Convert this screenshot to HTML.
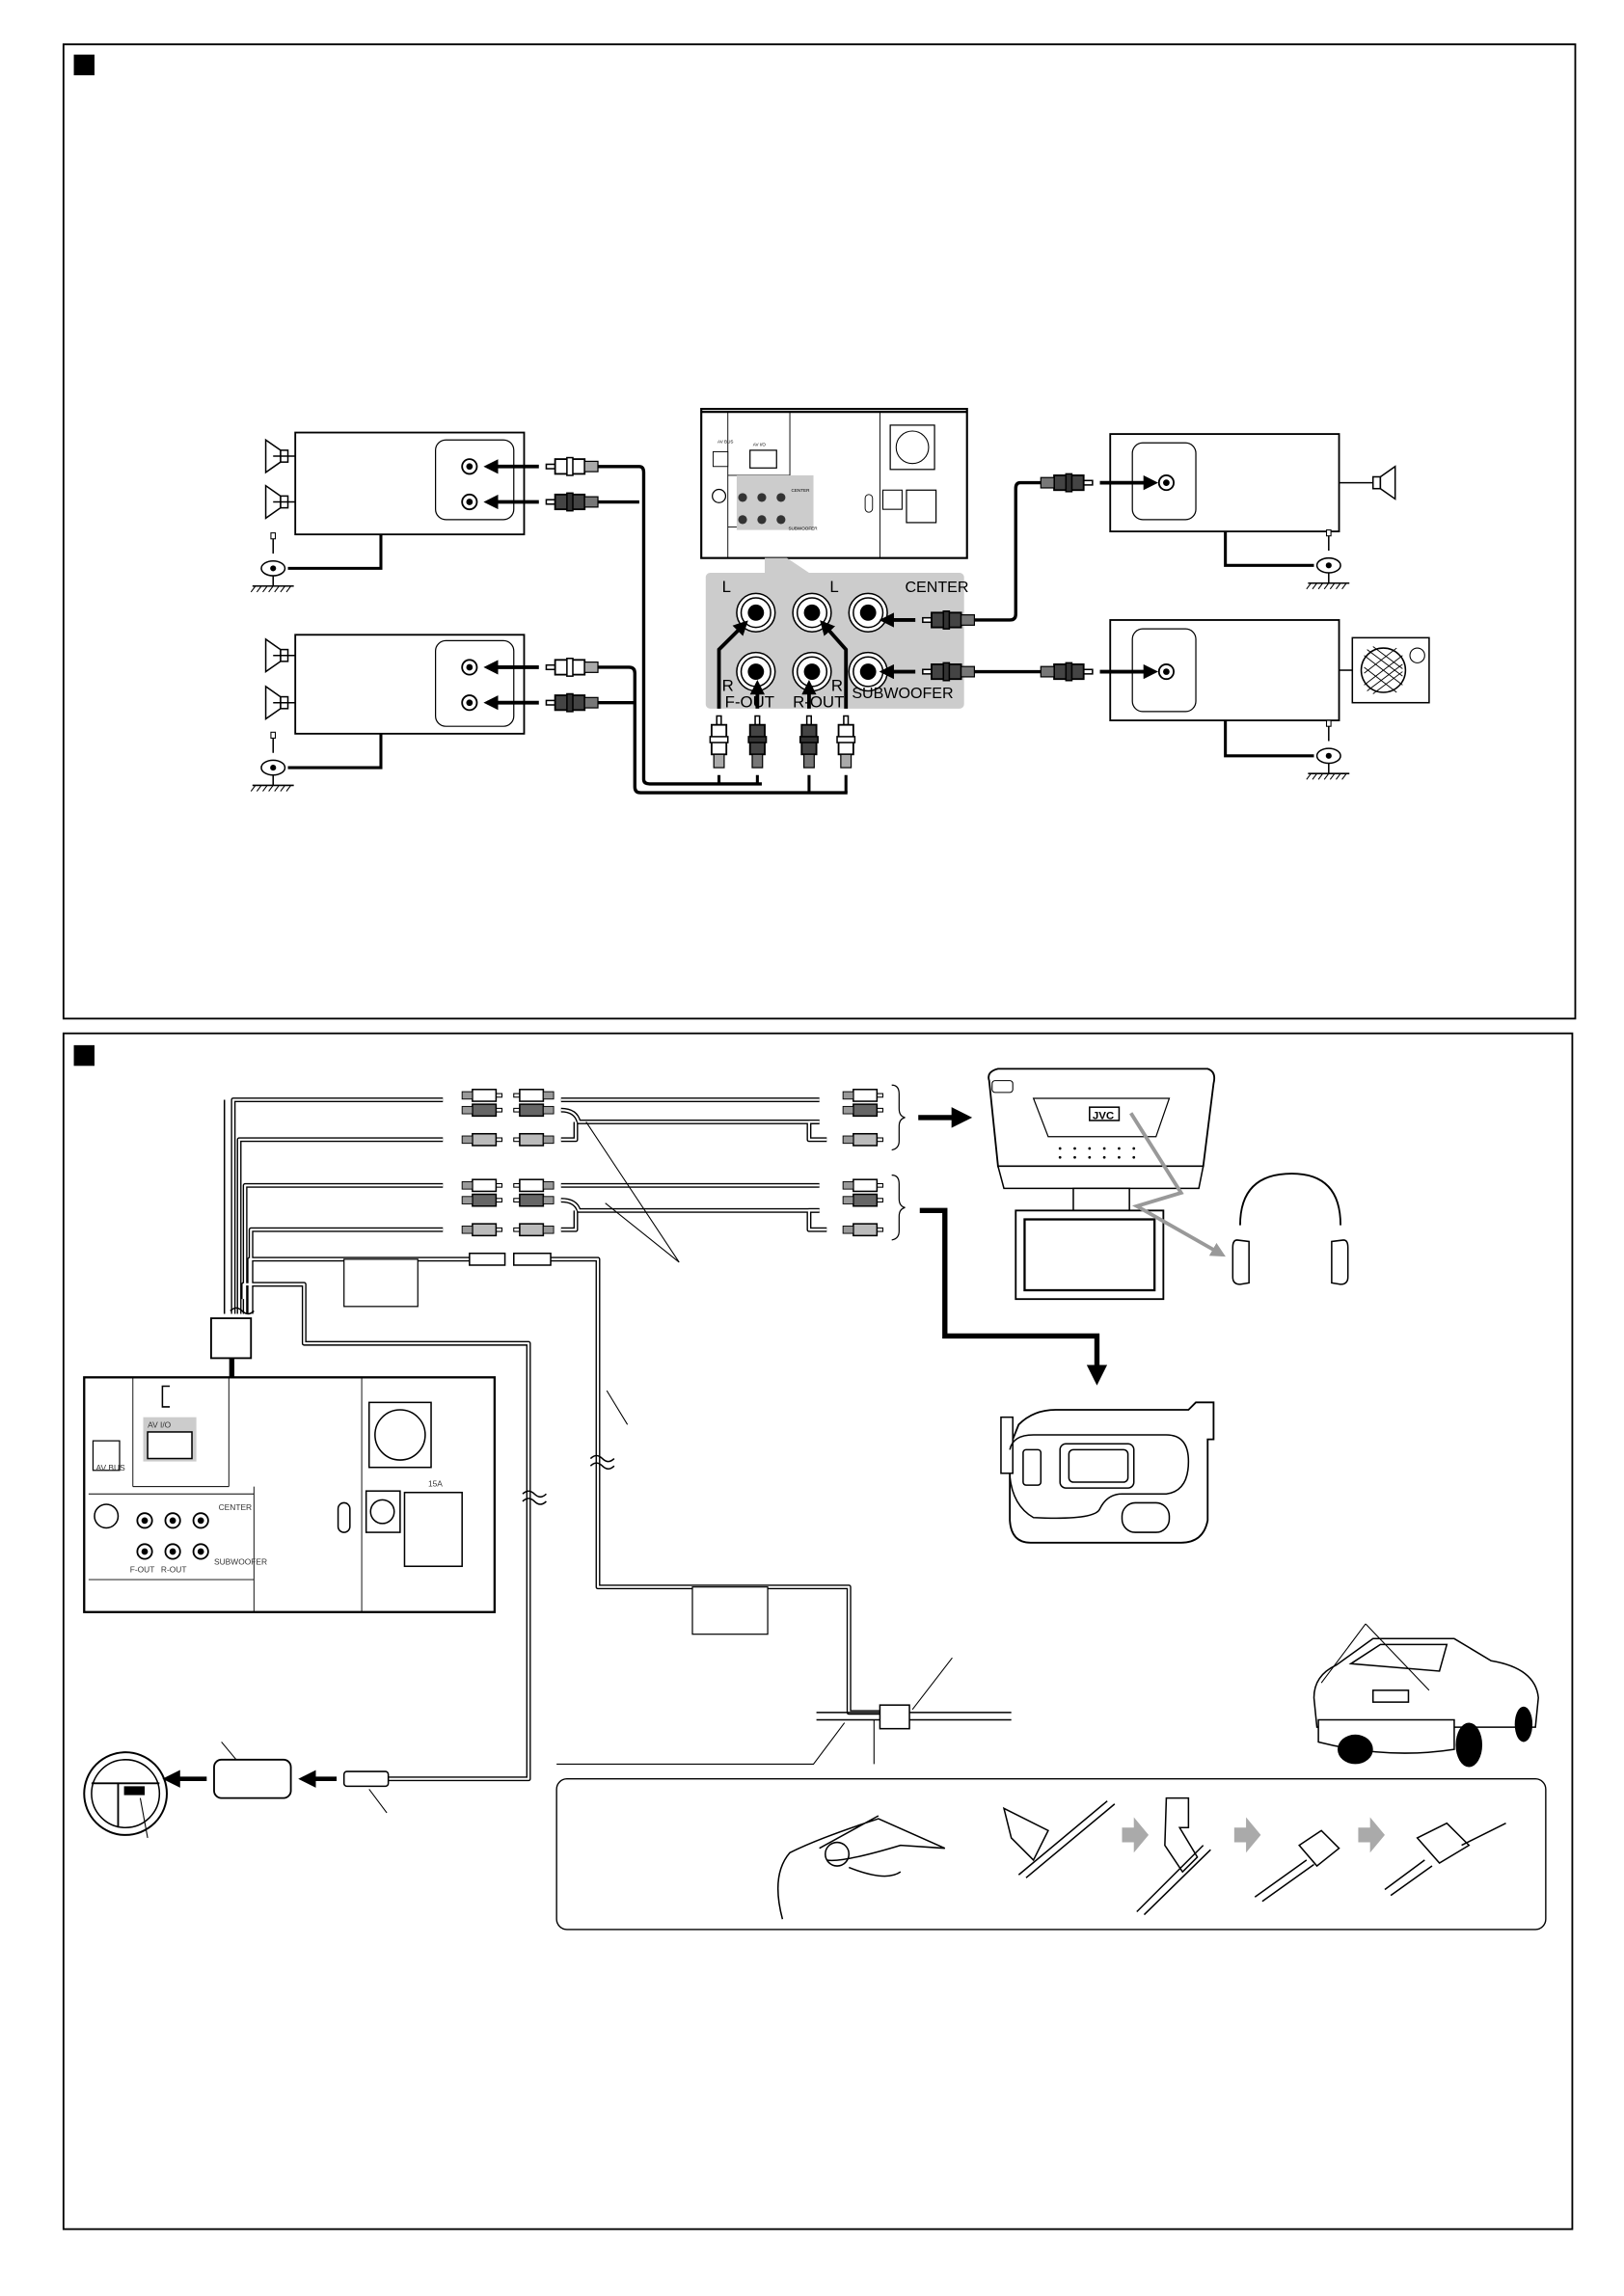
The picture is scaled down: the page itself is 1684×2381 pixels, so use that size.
<!DOCTYPE html>
<html><head><meta charset="utf-8"><style>html,body{margin:0;padding:0;background:#fff}svg{display:block}</style></head>
<body>
<svg width="1684" height="2381" viewBox="0 0 1100 1555.3" xmlns="http://www.w3.org/2000/svg" font-family="Liberation Sans, sans-serif">
<defs>
<g id="pW"><rect x="0" y="-1.5" width="6" height="3" fill="#fff" stroke="#000" stroke-width="1"/><rect x="6" y="-5" width="20" height="10" fill="#fff" stroke="#000" stroke-width="1.2"/><rect x="14" y="-6" width="4" height="12" fill="#fff" stroke="#000"/><rect x="26" y="-3.5" width="9" height="7" fill="#aaa" stroke="#000" stroke-width=".8"/></g>
<g id="pB"><rect x="0" y="-1.5" width="6" height="3" fill="#fff" stroke="#000" stroke-width="1"/><rect x="6" y="-5" width="20" height="10" fill="#444" stroke="#000" stroke-width="1.2"/><rect x="14" y="-6" width="4" height="12" fill="#333" stroke="#000"/><rect x="26" y="-3.5" width="9" height="7" fill="#777" stroke="#000" stroke-width=".8"/></g>
<g id="sW"><rect x="0" y="-1.2" width="4" height="2.4" fill="#fff" stroke="#000" stroke-width=".7"/><rect x="4" y="-4" width="16" height="8" fill="#fff" stroke="#000"/><rect x="20" y="-2.5" width="7" height="5" fill="#999" stroke="#000" stroke-width=".6"/></g>
<g id="sD"><rect x="0" y="-1.2" width="4" height="2.4" fill="#fff" stroke="#000" stroke-width=".7"/><rect x="4" y="-4" width="16" height="8" fill="#666" stroke="#000"/><rect x="20" y="-2.5" width="7" height="5" fill="#999" stroke="#000" stroke-width=".6"/></g>
<g id="sG"><rect x="0" y="-1.2" width="4" height="2.4" fill="#fff" stroke="#000" stroke-width=".7"/><rect x="4" y="-4" width="16" height="8" fill="#bbb" stroke="#000"/><rect x="20" y="-2.5" width="7" height="5" fill="#999" stroke="#000" stroke-width=".6"/></g>
<g id="jack"><circle r="13" fill="#fff" stroke="#000" stroke-width="1"/><circle r="10" fill="#fff" stroke="#000" stroke-width="1"/><circle r="5.5" fill="#000"/></g>
<g id="sj"><circle r="5" fill="#fff" stroke="#000" stroke-width="1.2"/><circle r="2.2" fill="#000"/></g>
<g id="spk"><rect x="0" y="-4" width="5" height="8" fill="#fff" stroke="#000"/><path d="M5,-4 L15,-11 L15,11 L5,4 Z" fill="#fff" stroke="#000"/></g>
<g id="gnd"><line x1="0" y1="-22" x2="0" y2="-10" stroke="#000"/><rect x="-1.5" y="-24" width="3" height="4" fill="#fff" stroke="#000" stroke-width=".7"/><ellipse cx="0" cy="0" rx="8" ry="5" fill="#fff" stroke="#000"/><circle r="2" fill="#000"/><line x1="0" y1="5" x2="0" y2="12" stroke="#000"/><line x1="-14" y1="12" x2="14" y2="12" stroke="#000"/><path d="M-12,12 l-3,4 M-8,12 l-3,4 M-4,12 l-3,4 M0,12 l-3,4 M4,12 l-3,4 M8,12 l-3,4 M12,12 l-3,4" stroke="#000" stroke-width=".7"/></g>
<marker id="ah" markerWidth="4" markerHeight="4" refX="3" refY="2" orient="auto"><path d="M0,0 L4,2 L0,4 Z" fill="#000"/></marker>
<marker id="ahg" markerWidth="4" markerHeight="4" refX="3" refY="2" orient="auto"><path d="M0,0 L4,2 L0,4 Z" fill="#999"/></marker>
</defs>
<rect width="1100" height="1555.3" fill="#fff"/>
<!-- frames -->
<rect x="43" y="30" width="1024" height="660" fill="none" stroke="#000" stroke-width="1.2"/>
<rect x="50" y="37" width="14" height="14" fill="#000"/>
<rect x="43" y="700" width="1022" height="810" fill="none" stroke="#000" stroke-width="1.2"/>
<rect x="50" y="708" width="14" height="14" fill="#000"/>

<!-- ===== SECTION 1 ===== -->
<!-- left amps -->
<g fill="#fff" stroke="#000">
<rect x="200" y="293" width="155" height="69" stroke-width="1.2"/>
<rect x="295" y="298" width="53" height="54" rx="7" stroke-width=".8"/>
<rect x="200" y="430" width="155" height="67" stroke-width="1.2"/>
<rect x="295" y="434" width="53" height="58" rx="7" stroke-width=".8"/>
<rect x="752" y="294" width="155" height="66" stroke-width="1.2"/>
<rect x="767" y="300" width="43" height="52" rx="7" stroke-width=".8"/>
<rect x="752" y="420" width="155" height="68" stroke-width="1.2"/>
<rect x="767" y="426" width="43" height="56" rx="7" stroke-width=".8"/>
</g>
<use href="#sj" x="318" y="316"/><use href="#sj" x="318" y="340"/>
<use href="#sj" x="318" y="452"/><use href="#sj" x="318" y="476"/>
<use href="#sj" x="790" y="327"/><use href="#sj" x="790" y="455"/>
<g transform="translate(195,309) scale(-1,1)"><use href="#spk"/></g>
<g transform="translate(195,340) scale(-1,1)"><use href="#spk"/></g>
<g transform="translate(195,444) scale(-1,1)"><use href="#spk"/></g>
<g transform="translate(195,476) scale(-1,1)"><use href="#spk"/></g>
<line x1="185" y1="309" x2="200" y2="309" stroke="#000"/><line x1="185" y1="340" x2="200" y2="340" stroke="#000"/>
<line x1="185" y1="444" x2="200" y2="444" stroke="#000"/><line x1="185" y1="476" x2="200" y2="476" stroke="#000"/>
<g transform="translate(930,327)"><use href="#spk"/></g>
<line x1="907" y1="327" x2="930" y2="327" stroke="#000"/>
<rect x="916" y="432" width="52" height="44" fill="#fff" stroke="#000"/>
<circle cx="937" cy="454" r="15" fill="#fff" stroke="#000"/>
<g stroke="#000" stroke-width=".6" clip-path="url(#cc)"><path d="M924,444 l26,20 M924,452 l22,17 M926,440 l24,18 M930,438 l20,15 M924,464 l26,-20 M924,456 l22,-17 M926,468 l24,-18 M930,470 l20,-15"/></g>
<circle cx="960" cy="444" r="5" fill="#fff" stroke="#000" stroke-width=".7"/>
<line x1="907" y1="454" x2="916" y2="454" stroke="#000"/>
<!-- grounds -->
<path d="M258,362 V385 H195" fill="none" stroke="#000" stroke-width="2"/>
<g transform="translate(185,385)"><use href="#gnd"/></g>
<path d="M258,497 V520 H195" fill="none" stroke="#000" stroke-width="2"/>
<g transform="translate(185,520)"><use href="#gnd"/></g>
<path d="M830,360 V383 H890" fill="none" stroke="#000" stroke-width="2"/>
<g transform="translate(900,383)"><use href="#gnd"/></g>
<path d="M830,488 V512 H890" fill="none" stroke="#000" stroke-width="2"/>
<g transform="translate(900,512)"><use href="#gnd"/></g>
<!-- left plugs/cables -->
<path d="M404,316 H433 Q436,316 436,320 V528 Q436,531 440,531 H516" fill="none" stroke="#000" stroke-width="2.2"/>
<path d="M404,340 H433" fill="none" stroke="#000" stroke-width="2.2"/>
<path d="M404,452 H426 Q430,452 430,456 V533 Q430,537 434,537 H574" fill="none" stroke="#000" stroke-width="2.2"/>
<path d="M404,476 H430" fill="none" stroke="#000" stroke-width="2.2"/>
<path d="M487,525 V531 M513,525 V531 M548,525 V537 M573,525 V537" stroke="#000" stroke-width="2"/>
<use href="#pW" x="370" y="316"/><use href="#pB" x="370" y="340"/>
<use href="#pW" x="370" y="452"/><use href="#pB" x="370" y="476"/>
<g stroke="#000" stroke-width="2.5" marker-end="url(#ah)"><line x1="365" y1="316" x2="330" y2="316"/><line x1="365" y1="340" x2="330" y2="340"/><line x1="365" y1="452" x2="330" y2="452"/><line x1="365" y1="476" x2="330" y2="476"/></g>
<!-- head unit sec1 -->
<rect x="475" y="277" width="180" height="101" fill="#fff" stroke="#000" stroke-width="1.4"/>
<line x1="475" y1="279" x2="655" y2="279" stroke="#000" stroke-width="1.5"/>
<path d="M493,279 V378 M535,279 V322 M493,322 H535 M596,279 V378 M493,357 H520" stroke="#000" stroke-width=".6" fill="none"/>
<rect x="499" y="322" width="52" height="37" fill="#ccc"/>
<rect x="483" y="306" width="10" height="10" fill="#fff" stroke="#000" stroke-width=".6"/>
<rect x="508" y="305" width="18" height="12" fill="#fff" stroke="#000" stroke-width=".8"/>
<rect x="603" y="288" width="30" height="30" fill="#fff" stroke="#000" stroke-width=".8"/>
<circle cx="618" cy="303" r="11" fill="#fff" stroke="#000" stroke-width=".7"/>
<rect x="598" y="332" width="13" height="13" fill="#fff" stroke="#000" stroke-width=".7"/>
<rect x="614" y="332" width="20" height="22" fill="#fff" stroke="#000" stroke-width=".8"/>
<rect x="586" y="335" width="5" height="12" rx="2.5" fill="#fff" stroke="#000" stroke-width=".6"/>
<circle cx="487" cy="336" r="4.5" fill="#fff" stroke="#000" stroke-width=".8"/>
<g fill="#333"><circle cx="503" cy="337" r="3"/><circle cx="516" cy="337" r="3"/><circle cx="529" cy="337" r="3"/><circle cx="503" cy="352" r="3"/><circle cx="516" cy="352" r="3"/><circle cx="529" cy="352" r="3"/></g>
<text x="486" y="300" font-size="3">AV BUS</text><text x="510" y="302" font-size="3">AV I/O</text><text x="536" y="333" font-size="3">CENTER</text><text x="534" y="359" font-size="3">SUBWOOFER</text>
<!-- zoom callout -->
<path d="M518,378 L533,378 L548,388 L518,388 Z" fill="#ccc"/>
<rect x="478" y="388" width="175" height="92" rx="3" fill="#ccc"/>
<use href="#jack" x="512" y="415"/><use href="#jack" x="550" y="415"/><use href="#jack" x="588" y="415"/>
<use href="#jack" x="512" y="455"/><use href="#jack" x="550" y="455"/><use href="#jack" x="588" y="455"/>
<g font-size="11" fill="#000"><text x="489" y="401">L</text><text x="562" y="401">L</text><text x="613" y="401" font-size="10.5">CENTER</text>
<text x="489" y="468">R</text><text x="563" y="468">R</text><text x="491" y="479">F-OUT</text><text x="537" y="479">R-OUT</text><text x="577" y="473" font-size="10.5">SUBWOOFER</text></g>
<!-- vertical plugs -->
<g transform="translate(487,485) rotate(90)"><use href="#pW" transform="scale(1,1)"/></g>
<g transform="translate(513,485) rotate(90)"><use href="#pB"/></g>
<g transform="translate(548,485) rotate(90)"><use href="#pB"/></g>
<g transform="translate(573,485) rotate(90)"><use href="#pW"/></g>
<g stroke="#000" stroke-width="2.5" fill="none" marker-end="url(#ah)">
<path d="M487,480 V440 L505,422"/><path d="M513,480 V463"/><path d="M548,480 V463"/><path d="M573,480 V440 L557,422"/></g>
<!-- right side plugs -->
<g transform="translate(740,327) scale(-1,1)"><use href="#pB"/></g>
<g transform="translate(625,420)"><use href="#pB"/></g>
<path d="M705,327 H691 Q688,327 688,331 V416 Q688,420 684,420 H660" fill="none" stroke="#000" stroke-width="2.2"/>
<g transform="translate(625,455)"><use href="#pB"/></g>
<g transform="translate(740,455) scale(-1,1)"><use href="#pB"/></g>
<line x1="660" y1="455" x2="705" y2="455" stroke="#000" stroke-width="2.2"/>
<g stroke="#000" stroke-width="2.5" marker-end="url(#ah)"><line x1="620" y1="420" x2="598" y2="420"/><line x1="620" y1="455" x2="598" y2="455"/><line x1="745" y1="327" x2="782" y2="327"/><line x1="745" y1="455" x2="782" y2="455"/></g>

<!-- ===== SECTION 2 ===== -->
<!-- double-line cables -->
<g fill="none" stroke-linejoin="round">
<g stroke="#000" stroke-width="3.2">
<path d="M300,745 H158 V890"/><path d="M300,772 H162 V890"/>
<path d="M300,803 H166 V890"/><path d="M300,833 H170 V890"/>
<path d="M318,853 H169 V890"/>
<path d="M373,853 H405 V1075 H575 V1160 H600"/>
<path d="M165,880 V870 H206 V910 H358 V1205 H262"/>
<path d="M380,745 H555"/><path d="M380,752 Q390,752 392,760 H555"/><path d="M380,772 H390 V760"/>
<path d="M380,803 H555"/><path d="M380,813 Q390,813 392,820 H555"/><path d="M380,833 H390 V820"/>
<path d="M555,760 H548 V772 H560"/><path d="M555,820 H548 V833 H560"/>
</g>
<g stroke="#fff" stroke-width="1.4">
<path d="M300,745 H158 V890"/><path d="M300,772 H162 V890"/>
<path d="M300,803 H166 V890"/><path d="M300,833 H170 V890"/>
<path d="M318,853 H169 V890"/>
<path d="M373,853 H405 V1075 H575 V1160 H600"/>
<path d="M165,880 V870 H206 V910 H358 V1205 H262"/>
<path d="M380,745 H555"/><path d="M380,752 Q390,752 392,760 H555"/><path d="M380,772 H390 V760"/>
<path d="M380,803 H555"/><path d="M380,813 Q390,813 392,820 H555"/><path d="M380,833 H390 V820"/>
<path d="M555,760 H548 V772 H560"/><path d="M555,820 H548 V833 H560"/>
</g></g>
<path d="M152,745 V890" stroke="#000" stroke-width="1" fill="none"/>
<path d="M156,888 q4,-4 8,0 t8,0" stroke="#000" fill="none"/>
<!-- plugs sec2 -->
<g transform="translate(340,742) scale(-1,1)"><use href="#sW"/></g>
<g transform="translate(340,752) scale(-1,1)"><use href="#sD"/></g>
<g transform="translate(340,772) scale(-1,1)"><use href="#sG"/></g>
<g transform="translate(340,803) scale(-1,1)"><use href="#sW"/></g>
<g transform="translate(340,813) scale(-1,1)"><use href="#sD"/></g>
<g transform="translate(340,833) scale(-1,1)"><use href="#sG"/></g>
<g transform="translate(348,742)"><use href="#sW"/></g><g transform="translate(348,752)"><use href="#sD"/></g><g transform="translate(348,772)"><use href="#sG"/></g>
<g transform="translate(348,803)"><use href="#sW"/></g><g transform="translate(348,813)"><use href="#sD"/></g><g transform="translate(348,833)"><use href="#sG"/></g>
<g transform="translate(598,742) scale(-1,1)"><use href="#sW"/></g><g transform="translate(598,752) scale(-1,1)"><use href="#sD"/></g><g transform="translate(598,772) scale(-1,1)"><use href="#sG"/></g>
<g transform="translate(598,803) scale(-1,1)"><use href="#sW"/></g><g transform="translate(598,813) scale(-1,1)"><use href="#sD"/></g><g transform="translate(598,833) scale(-1,1)"><use href="#sG"/></g>
<rect x="318" y="849" width="24" height="8" fill="#fff" stroke="#000"/><rect x="348" y="849" width="25" height="8" fill="#fff" stroke="#000"/>
<!-- braces -->
<path d="M604,735 q5,0 5,6 v10 q0,5 4,6 q-4,1 -4,6 v10 q0,5 -5,6" fill="none" stroke="#000" stroke-width=".8"/>
<path d="M604,796 q5,0 5,6 v10 q0,5 4,6 q-4,1 -4,6 v10 q0,5 -5,6" fill="none" stroke="#000" stroke-width=".8"/>
<line x1="622" y1="757" x2="655" y2="757" stroke="#000" stroke-width="3.5" marker-end="url(#ah)"/>
<path d="M623,820 H640 V905 H743 V935" fill="none" stroke="#000" stroke-width="3.5" marker-end="url(#ah)"/>
<!-- leader lines -->
<path d="M397,760 L460,855 L410,815 M411,942 L425,965 M572,1167 L551,1195 H377 M592,1165 V1195" stroke="#000" stroke-width=".7" fill="none"/>
<!-- white label boxes -->
<rect x="233" y="853" width="50" height="32" fill="#fff" stroke="#000" stroke-width=".8"/>
<rect x="469" y="1075" width="51" height="32" fill="#fff" stroke="#000" stroke-width=".8"/>
<!-- connector box -->
<rect x="143" y="893" width="27" height="27" fill="#fff" stroke="#000" stroke-width="1.2"/>
<path d="M157,920 V990 H140" fill="none" stroke="#000" stroke-width="3.5" marker-end="url(#ah)"/>
<!-- break marks -->
<path d="M354,1012 q4,-4 8,0 t8,0 M354,1017 q4,-4 8,0 t8,0 M400,988 q4,-4 8,0 t8,0 M400,993 q4,-4 8,0 t8,0" stroke="#000" fill="none"/>
<!-- head unit sec2 -->
<rect x="57" y="933" width="278" height="159" fill="#fff" stroke="#000" stroke-width="1.5"/>
<path d="M90,933 V1007 M155,933 V1007 M90,1007 H155 M60,1012 H172 M172,1007 V1092 M245,933 V1092 M60,1070 H172" stroke="#000" stroke-width=".6" fill="none"/>
<rect x="97" y="960" width="36" height="30" fill="#ccc"/>
<rect x="100" y="970" width="30" height="18" fill="#fff" stroke="#000"/>
<rect x="63" y="976" width="18" height="20" fill="#fff" stroke="#000" stroke-width=".8"/>
<path d="M115,939 h-5 v14 h5" fill="none" stroke="#000"/>
<rect x="250" y="950" width="42" height="44" fill="#fff" stroke="#000"/>
<circle cx="271" cy="972" r="17" fill="#fff" stroke="#000"/>
<rect x="248" y="1010" width="23" height="28" fill="#fff" stroke="#000"/>
<circle cx="259" cy="1024" r="8" fill="#fff" stroke="#000"/>
<rect x="274" y="1011" width="39" height="50" fill="#fff" stroke="#000"/>
<rect x="229" y="1018" width="8" height="20" rx="4" fill="#fff" stroke="#000"/>
<circle cx="72" cy="1027" r="8" fill="#fff" stroke="#000"/>
<use href="#sj" x="98" y="1030"/><use href="#sj" x="117" y="1030"/><use href="#sj" x="136" y="1030" transform="scale(1)"/>
<use href="#sj" x="98" y="1051"/><use href="#sj" x="117" y="1051"/><use href="#sj" x="136" y="1051"/>
<g font-size="5.5" fill="#333"><text x="65" y="996" y2="">AV BUS</text><text x="100" y="967">AV I/O</text><text x="148" y="1023">CENTER</text><text x="145" y="1060">SUBWOOFER</text><text x="88" y="1065">F-OUT</text><text x="109" y="1065">R-OUT</text><text x="290" y="1007">15A</text></g>
<!-- monitor -->
<path d="M670,732 Q668,726 676,724 H818 Q824,726 822,734 L815,790 H676 Z" fill="#fff" stroke="#000" stroke-width="1.2"/>
<path d="M700,744 H792 L783,770 H710 Z" fill="#fff" stroke="#000" stroke-width=".8"/>
<rect x="738" y="750" width="20" height="9" fill="#fff" stroke="#000"/><text x="740" y="758" font-size="7.5" font-weight="bold">JVC</text>
<rect x="672" y="732" width="14" height="8" rx="2" fill="#fff" stroke="#000" stroke-width=".7"/>
<g fill="#000"><circle cx="718" cy="778" r=".9"/><circle cx="728" cy="778" r=".9"/><circle cx="738" cy="778" r=".9"/><circle cx="748" cy="778" r=".9"/><circle cx="758" cy="778" r=".9"/><circle cx="768" cy="778" r=".9"/><circle cx="718" cy="784" r=".9"/><circle cx="728" cy="784" r=".9"/><circle cx="738" cy="784" r=".9"/><circle cx="748" cy="784" r=".9"/><circle cx="758" cy="784" r=".9"/><circle cx="768" cy="784" r=".9"/></g>
<path d="M676,790 H815 L812,805 H680 Z" fill="#fff" stroke="#000"/>
<rect x="727" y="805" width="38" height="15" fill="#fff" stroke="#000"/>
<rect x="688" y="820" width="100" height="60" fill="#fff" stroke="#000" stroke-width="1.2"/>
<rect x="694" y="826" width="88" height="48" fill="#fff" stroke="#000" stroke-width="1.5"/>
<path d="M766,754 L800,808 L770,817 L828,850" fill="none" stroke="#999" stroke-width="2.5" marker-end="url(#ahg)"/>
<!-- headphones -->
<path d="M840,830 Q840,795 875,795 Q908,795 908,830" fill="none" stroke="#000" stroke-width="1.2"/>
<path d="M838,840 q-3,0 -3,5 v20 q0,5 5,5 l6,-1 v-28 z" fill="#fff" stroke="#000"/>
<path d="M910,840 q3,0 3,5 v20 q0,5 -5,5 l-6,-1 v-28 z" fill="#fff" stroke="#000"/>
<!-- camera -->
<path d="M690,965 Q700,955 715,955 H805 L810,950 H822 V975 H818 V1030 Q815,1045 800,1045 H698 Q685,1045 684,1030 V980 Z" fill="#fff" stroke="#000" stroke-width="1.2"/>
<rect x="678" y="960" width="8" height="38" fill="#fff" stroke="#000"/>
<path d="M684,982 Q686,972 700,972 H790 Q805,972 805,990 Q805,1010 790,1012 H760 Q750,1012 745,1022 Q742,1030 700,1028 Q686,1020 684,1000" fill="none" stroke="#000"/>
<rect x="693" y="982" width="12" height="24" rx="2" fill="#fff" stroke="#000"/>
<rect x="718" y="978" width="50" height="30" rx="4" fill="#fff" stroke="#000"/>
<rect x="724" y="982" width="40" height="22" rx="3" fill="#fff" stroke="#000"/>
<rect x="760" y="1018" width="32" height="20" rx="9" fill="#fff" stroke="#000"/>
<!-- car -->
<path d="M890,1150 Q890,1135 905,1128 L930,1110 H985 L1010,1125 Q1040,1130 1042,1150 L1040,1170 H892 Z" fill="#fff" stroke="#000"/>
<path d="M893,1165 H985 V1185 Q940,1192 893,1180 Z" fill="#fff" stroke="#000"/>
<ellipse cx="918" cy="1185" rx="12" ry="10" fill="#000"/><ellipse cx="995" cy="1182" rx="9" ry="15" fill="#000"/><ellipse cx="1032" cy="1168" rx="6" ry="12" fill="#000"/>
<path d="M915,1127 L935,1114 H980 L975,1132 Z" fill="#fff" stroke="#000"/>
<rect x="930" y="1145" width="24" height="8" fill="#fff" stroke="#000"/>
<path d="M925,1100 L895,1140 M925,1100 L968,1145" stroke="#000" stroke-width=".7"/>
<!-- splice -->
<line x1="553" y1="1160" x2="685" y2="1160" stroke="#000"/><line x1="553" y1="1165" x2="685" y2="1165" stroke="#000"/>
<rect x="596" y="1155" width="20" height="16" fill="#fff" stroke="#000"/>
<line x1="618" y1="1158" x2="645" y2="1123" stroke="#000" stroke-width=".7"/>
<!-- inset -->
<rect x="377" y="1205" width="670" height="102" rx="7" fill="#fff" stroke="#000" stroke-width=".9"/>
<path d="M530,1300 Q522,1270 535,1255 Q555,1245 595,1232 L640,1252 L610,1250 Q570,1262 560,1260 M555,1252 l40,-22 M575,1265 Q600,1275 610,1268" fill="none" stroke="#000"/>
<circle cx="567" cy="1256" r="8" fill="none" stroke="#000"/>
<path d="M680,1225 L710,1240 L700,1260 L685,1245 Z M690,1270 L750,1220 M695,1272 L755,1222" fill="none" stroke="#000"/>
<path d="M790,1218 h15 v20 h-6 l12,20 l-10,10 l-12,-18 Z M770,1295 L815,1250 M775,1297 L820,1253" fill="none" stroke="#000"/>
<path d="M880,1250 l15,-10 l12,12 l-15,12 z M850,1285 L885,1260 M855,1288 L890,1263" fill="none" stroke="#000"/>
<path d="M960,1245 l20,-10 l15,15 l-20,12 z M938,1280 L965,1260 M942,1284 L970,1264 M990,1250 Q1010,1240 1020,1235" fill="none" stroke="#000"/>
<g fill="#aaa"><path d="M760,1238 h8 v-7 l10,12 l-10,12 v-7 h-8 z"/><path d="M836,1238 h8 v-7 l10,12 l-10,12 v-7 h-8 z"/><path d="M920,1238 h8 v-7 l10,12 l-10,12 v-7 h-8 z"/></g>
<!-- steering wheel -->
<circle cx="85" cy="1215" r="28" fill="#fff" stroke="#000" stroke-width="1.3"/>
<circle cx="85" cy="1215" r="23" fill="#fff" stroke="#000"/>
<path d="M62,1208 H108 M80,1208 V1238" stroke="#000" stroke-width="1.2"/>
<rect x="84" y="1210" width="14" height="6" fill="#000"/>
<line x1="95" y1="1218" x2="100" y2="1245" stroke="#000" stroke-width=".7"/>
<rect x="145" y="1192" width="52" height="26" rx="5" fill="#fff" stroke="#000" stroke-width="1.2"/>
<line x1="160" y1="1192" x2="150" y2="1180" stroke="#000" stroke-width=".7"/>
<line x1="140" y1="1205" x2="113" y2="1205" stroke="#000" stroke-width="3" marker-end="url(#ah)"/>
<line x1="228" y1="1205" x2="205" y2="1205" stroke="#000" stroke-width="3" marker-end="url(#ah)"/>
<rect x="233" y="1200" width="30" height="10" rx="2" fill="#fff" stroke="#000"/>
<line x1="250" y1="1212" x2="262" y2="1228" stroke="#000" stroke-width=".7"/>
</svg>
</body></html>
